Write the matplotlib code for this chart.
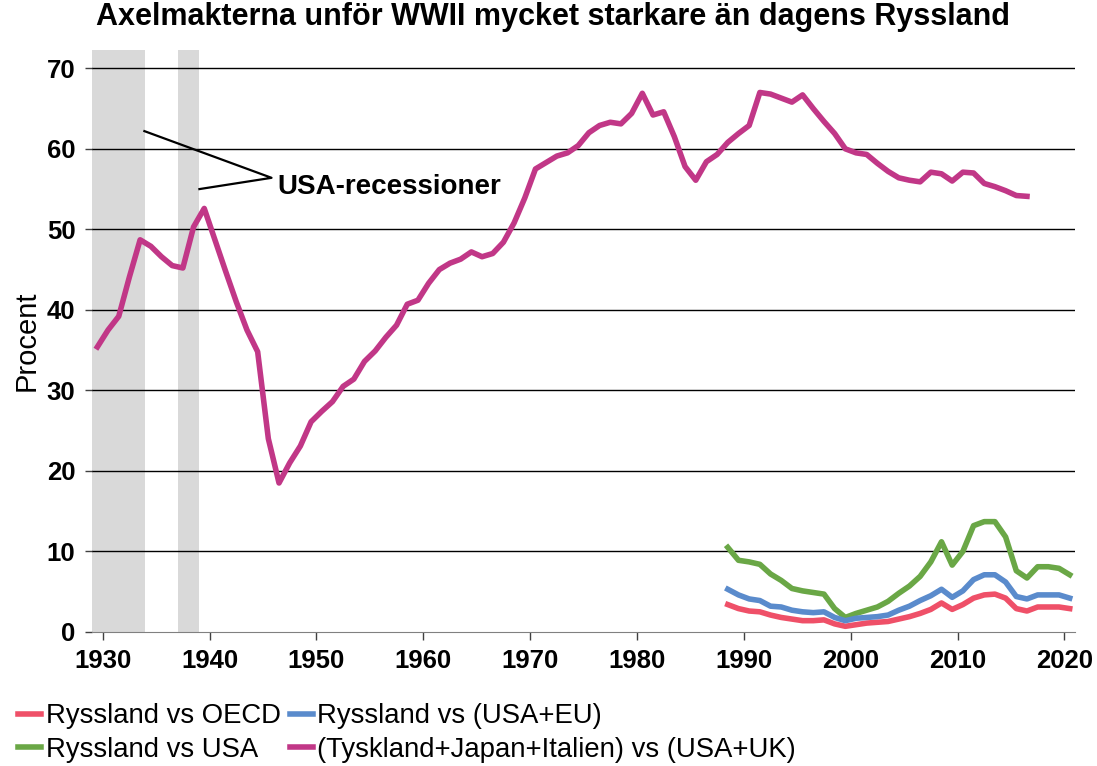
import matplotlib.pyplot as plt
import numpy as np

plt.rcParams['font.family'] = ['Liberation Sans', 'DejaVu Sans']

# andel i procent, arsdata
axis_years = np.arange(1929, 2017)
axis_share = [35.4, 37.5, 39.2, 44.1, 48.7, 47.9, 46.6, 45.5, 45.2, 50.3,
              52.6, 48.7, 44.8, 41.0, 37.5, 34.8, 24.0, 18.5, 21.0, 23.1,
              26.1, 27.4, 28.6, 30.5, 31.4, 33.6, 34.9, 36.6, 38.1, 40.7,
              41.2, 43.3, 45.0, 45.8, 46.3, 47.2, 46.6, 47.0, 48.4, 50.8,
              53.9, 57.5, 58.3, 59.1, 59.5, 60.4, 62.0, 62.9, 63.3, 63.1,
              64.4, 66.9, 64.2, 64.6, 61.5, 57.8, 56.1, 58.4, 59.3, 60.8,
              61.9, 62.9, 67.0, 66.8, 66.3, 65.8, 66.7, 65.0, 63.4, 61.9,
              60.0, 59.5, 59.3, 58.2, 57.2, 56.4, 56.1, 55.9, 57.1, 56.9,
              56.0, 57.1, 57.0, 55.7, 55.3, 54.8, 54.2, 54.1]

ru_years = np.arange(1988, 2021)
ru_oecd = [3.4, 2.9, 2.6, 2.5, 2.1, 1.8, 1.6, 1.4, 1.4, 1.5,
           1.0, 0.7, 0.9, 1.1, 1.2, 1.3, 1.6, 1.9, 2.3, 2.8,
           3.6, 2.8, 3.4, 4.2, 4.6, 4.7, 4.2, 2.9, 2.6, 3.1,
           3.1, 3.1, 2.9]
ru_useu = [5.3, 4.6, 4.1, 3.9, 3.2, 3.1, 2.7, 2.5, 2.4, 2.5,
           1.8, 1.4, 1.7, 1.8, 1.9, 2.1, 2.7, 3.2, 3.9, 4.5,
           5.3, 4.3, 5.1, 6.5, 7.1, 7.1, 6.2, 4.4, 4.1, 4.6,
           4.6, 4.6, 4.2]
ru_usa = [10.5, 8.9, 8.7, 8.4, 7.2, 6.4, 5.4, 5.1, 4.9, 4.7,
          2.9, 1.8, 2.3, 2.7, 3.1, 3.8, 4.8, 5.7, 6.9, 8.7,
          11.2, 8.3, 10.0, 13.2, 13.7, 13.7, 11.8, 7.6, 6.7, 8.1,
          8.1, 7.9, 7.1]

recessions = [(1929, 1934), (1937, 1939)]

fig = plt.figure(figsize=(10.97, 7.66), dpi=100)
ax = fig.add_axes([0.0839, 0.175, 0.8961, 0.76])

for start, end in recessions:
    ax.axvspan(start, end, color='#d9d9d9', lw=0, zorder=0)

for y in range(10, 80, 10):
    ax.axhline(y, color='black', lw=1.0, zorder=1)

# mitten av aret
ax.plot(ru_years + 0.5, ru_oecd, color='#ef5068', lw=4, label='Ryssland vs OECD', zorder=3)
ax.plot(ru_years + 0.5, ru_usa, color='#6aa746', lw=4, label='Ryssland vs USA', zorder=3)
ax.plot(ru_years + 0.5, ru_useu, color='#5a8bcc', lw=4, label='Ryssland vs (USA+EU)', zorder=3)
ax.plot(axis_years + 0.5, axis_share, color='#c13787', lw=4,
        label='(Tyskland+Japan+Italien) vs (USA+UK)', zorder=3)

ax.set_xlim(1929, 2021)
ax.set_ylim(0, 72.3)
ax.set_xticks(range(1930, 2030, 10))
ax.set_yticks(range(0, 80, 10))
ax.tick_params(axis='both', labelsize=18.5, width=1, color='#404040')
for lab in ax.get_xticklabels() + ax.get_yticklabels():
    lab.set_fontweight('bold')
ax.tick_params(axis='y', length=5, pad=7)
ax.tick_params(axis='x', length=6, pad=6)

for s in ['top', 'right', 'left']:
    ax.spines[s].set_visible(False)
ax.spines['bottom'].set_color('#808080')

ax.set_ylabel('Procent', fontsize=21)
ax.yaxis.set_label_coords(-0.052, 0.5)

# pekare till recessionerna
ax.plot([1933.9, 1945.8, 1939.05], [62.2, 56.4, 55.0], color='black', lw=1.6, zorder=2)
ax.text(1946.3, 55.3, 'USA-recessioner', fontsize=20, fontweight='bold', va='center')

fig.suptitle('Axelmakterna unför WWII mycket starkare än dagens Ryssland',
             fontsize=22, fontweight='bold', x=0.504, y=0.997, va='top')

fig.legend(ncol=2, loc='upper left', bbox_to_anchor=(18 / 1097, 0.082),
           bbox_transform=fig.transFigure, frameon=False,
           fontsize=19.8, handlelength=0.85, handletextpad=0.15, columnspacing=0.33,
           labelspacing=0.28, borderpad=0, borderaxespad=0)

fig.savefig('out.png', dpi=100)
